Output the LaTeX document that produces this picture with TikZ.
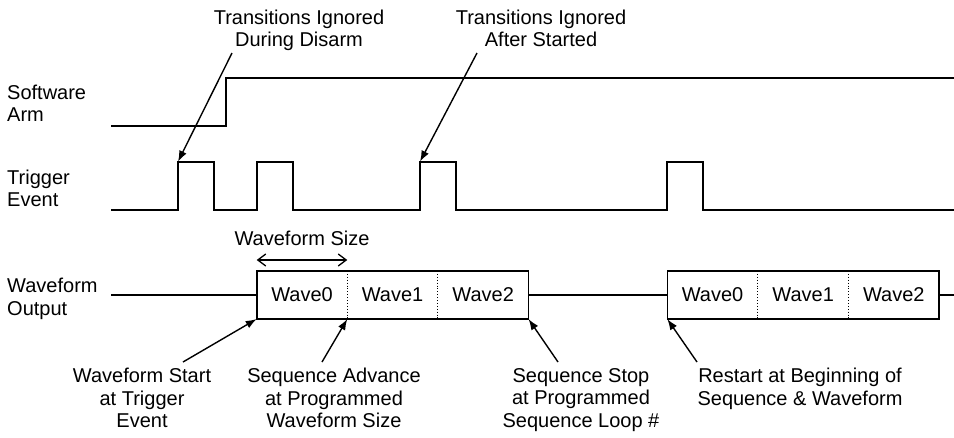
\documentclass[tikz,border=0pt]{standalone}
\usepackage{fontspec}
\setmainfont{Liberation Sans}
\usetikzlibrary{positioning,arrows.meta}

\begin{document}
\begin{tikzpicture}[
    x=1pt, y=-1pt,
    every node/.style={font=\fontsize{20}{22.5}\selectfont},
    lbl/.style={align=left, inner sep=0pt, anchor=north west},
    note/.style={align=center, inner sep=0pt, anchor=north},
    sig/.style={line width=1.6pt},
    seg/.style={minimum width=90.6pt, minimum height=48pt, inner sep=0pt, outer sep=0pt},
    sep/.style={dotted, line width=0.9pt},
    ptr/.style={-{Latex[length=11pt,width=8pt]}, line width=1.4pt},
    dim/.style={{Straight Barb[length=8pt,width=12pt]}-{Straight Barb[length=8pt,width=12pt]}, line width=1.3pt}
]
\useasboundingbox (0,0) rectangle (954,437);

% Signal names
\node[lbl] (arm) at (7,84.5) {Software\\Arm};
\node[lbl] (trig) at (7,169.5) {Trigger\\Event};
\node[lbl] (wout) at (7,278) {Waveform\\Output};

% Software arm
\draw[sig] (111,125.7) -- (226,125.7) -- (226,77.7) -- (954,77.7);

% Trigger event
\draw[sig] (111,210) \foreach \a/\b in {178/214,256.7/292.7,420/456,667/703}{
    -- (\a,210) -- (\a,161.7) -- (\b,161.7) -- (\b,210)} -- (954,210);
\coordinate (p1) at (178,161.7);
\coordinate (p3) at (420,161.7);

% Waveform output
\node[seg] (a0) at (302,295) {Wave0};
\node[seg, right=0pt of a0] (a1) {Wave1};
\node[seg, right=0pt of a1] (a2) {Wave2};
\node[seg] (b0) at (712.6,295) {Wave0};
\node[seg, right=0pt of b0] (b1) {Wave1};
\node[seg, right=0pt of b1] (b2) {Wave2};
\coordinate (w-in) at (111,295);
\coordinate (w-end) at (954,295);

\draw[sig] (a0.north west) rectangle (a2.south east);
\draw[sig] (b0.north west) rectangle (b2.south east);
\foreach \n in {a0,a1,b0,b1}
    \draw[sep] (\n.north east) -- (\n.south east);
\draw[sig] (w-in) -- (a0.west);
\draw[sig] (a2.east) -- (b0.west);
\draw[sig] (b2.east) -- (w-end);

% Waveform size
\draw[dim] ([yshift=11pt]a0.north west) -- ([yshift=11pt]a0.north east);
\node[anchor=base] (wsize) at (302,245) {Waveform Size};

% Notes
\node[note] (disarm) at (299,9.5) {Transitions Ignored\\During Disarm};
\node[note] (started) at (541,9.5) {Transitions Ignored\\After Started};
\node[note] (wstart) at (142,368) {Waveform Start\\at Trigger\\Event};
\node[note] (advance) at (334,368) {Sequence Advance\\at Programmed\\Waveform Size};
\node[note] (stop) at (581,368) {Sequence Stop\\at Programmed\\Sequence Loop \#};
\node[note] (restart) at (800,368) {Restart at Beginning of\\Sequence \& Waveform};

\coordinate (disarm-s) at (232,53);
\coordinate (started-s) at (477,53);
\coordinate (wstart-s) at (183,362);
\coordinate (advance-s) at (322,362);
\coordinate (stop-s) at (558,362);
\coordinate (restart-s) at (697,362);

\draw[ptr] (disarm-s) -- (p1);
\draw[ptr] (started-s) -- (p3);
\draw[ptr] (wstart-s) -- (a0.south west);
\draw[ptr] (advance-s) -- (a0.south east);
\draw[ptr] (stop-s) -- (a2.south east);
\draw[ptr] (restart-s) -- (b0.south west);
\end{tikzpicture}
\end{document}
